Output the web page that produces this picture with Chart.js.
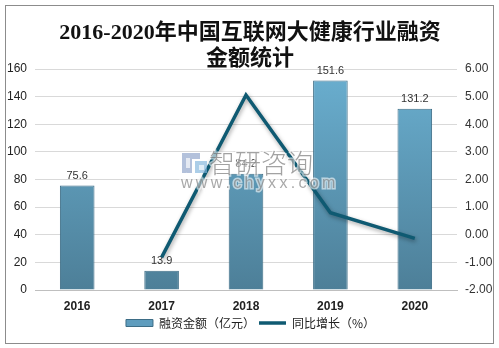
<!DOCTYPE html>
<html>
<head>
<meta charset="utf-8">
<script src="https://cdn.jsdelivr.net/npm/chart.js@4/dist/chart.umd.min.js"></script>
<style>
  html, body { margin: 0; padding: 0; background: #fff; }
  #wrap { position: relative; width: 499px; height: 348px; }
  #frame {
    position: absolute; left: 5px; top: 5px; width: 487px; height: 337px;
    border: 1px solid #8c8c8c; pointer-events: none;
  }
</style>
</head>
<body>
<div id="wrap">
  <canvas id="fundingChart" width="499" height="348"></canvas>
  <div id="frame"></div>
</div>
<script>
// yearly data
const years = ['2016', '2017', '2018', '2019', '2020'];
const funding = [75.6, 13.9, 84.2, 151.6, 131.2];      // 亿元
const growth = [null, -0.82, 5.06, 0.80, -0.13];       // 同比增长
const leftTicks = [0, 20, 40, 60, 80, 100, 120, 140, 160];
const rightTicks = [-2, -1, 0, 1, 2, 3, 4, 5, 6];
const titleLines = ['2016-2020年中国互联网大健康行业融资', '金额统计'];

const CJK = '"Noto Sans CJK SC", "Noto Sans", sans-serif';
const LATIN = '"Liberation Sans", Arial, sans-serif';

// vertical gradient for the bars
function barFill(context) {
    const { ctx, chartArea } = context.chart;
    if (!chartArea) return '#5e9bbb';
    const g = ctx.createLinearGradient(0, chartArea.top, 0, chartArea.bottom);
    g.addColorStop(0, '#6aafd0');
    g.addColorStop(1, '#4d7f98');
    return g;
}

// two-line heading, drawn in the top margin so it can sit close to the plot
const heading = {
    id: 'heading',
    afterDraw(chart) {
        const ctx = chart.ctx;
        ctx.save();
        ctx.font = 'bold 22px "Liberation Serif", ' + CJK;
        ctx.fillStyle = '#111';
        ctx.textAlign = 'center';
        ctx.textBaseline = 'middle';
        ctx.fillText(titleLines[0], 250, 33);
        ctx.fillText(titleLines[1], 250, 59);
        ctx.restore();
    }
};

// value labels above each bar, drawn before the line goes on top
const barLabels = {
    id: 'barLabels',
    afterDatasetDraw(chart, args) {
        if (args.index !== 0) return;
        const ctx = chart.ctx;
        const meta = chart.getDatasetMeta(0);
        ctx.save();
        ctx.font = '11px ' + LATIN;
        ctx.fillStyle = '#333';
        ctx.textAlign = 'center';
        ctx.textBaseline = 'bottom';
        meta.data.forEach((bar, i) => {
            ctx.fillText(funding[i].toFixed(1), bar.x, bar.y - 4);
        });
        ctx.restore();
    }
};

// soft shadow under the growth line
const lineShadow = {
    id: 'lineShadow',
    beforeDatasetDraw(chart, args) {
        if (args.index !== 1) return;
        const ctx = chart.ctx;
        ctx.save();
        ctx.shadowColor = 'rgba(0,0,0,0.35)';
        ctx.shadowBlur = 4;
        ctx.shadowOffsetX = 1;
        ctx.shadowOffsetY = 2;
    },
    afterDatasetDraw(chart, args) {
        if (args.index !== 1) return;
        chart.ctx.restore();
    }
};

// site watermark across the middle of the plot
const watermark = {
    id: 'watermark',
    afterDatasetsDraw(chart) {
        const ctx = chart.ctx;
        ctx.save();
        ctx.globalAlpha = 0.65;
        // logo blocks
        ctx.fillStyle = '#8aa0c8';
        ctx.fillRect(182, 153, 10, 20);
        ctx.fillRect(192, 153, 8, 6);
        ctx.fillStyle = '#7fb3dc';
        ctx.fillRect(195, 161, 12, 12);
        ctx.fillStyle = '#fff';
        ctx.fillRect(186, 158, 4, 10);
        ctx.fillRect(199, 165, 5, 5);
        // name
        ctx.font = '300 26px ' + CJK;
        ctx.textBaseline = 'middle';
        ctx.textAlign = 'left';
        ctx.lineWidth = 3;
        ctx.strokeStyle = 'rgba(255,255,255,0.9)';
        ctx.strokeText('智研咨询', 209, 163);
        ctx.fillStyle = '#707070';
        ctx.fillText('智研咨询', 209, 163);
        // url
        ctx.font = '16px ' + LATIN;
        ctx.fillStyle = '#7a7a7a';
        const url = 'www.chyxx.com';
        let x = 181;
        for (const ch of url) {
            ctx.strokeText(ch, x, 184);
            ctx.fillText(ch, x, 184);
            x += ctx.measureText(ch).width + 3.3;
        }
        ctx.restore();
    }
};

const ctx = document.getElementById('fundingChart').getContext('2d');
new Chart(ctx, {
    data: {
        labels: years,
        datasets: [
            {
                type: 'bar',
                label: '融资金额（亿元）',
                data: funding,
                yAxisID: 'y',
                order: 1,
                backgroundColor: barFill,
                borderColor: '#3d6d86',
                borderWidth: 1,
                barPercentage: 0.41,
                categoryPercentage: 1,
                pointStyle: 'rect'
            },
            {
                type: 'line',
                label: '同比增长（%）',
                data: growth,
                yAxisID: 'y1',
                order: 0,
                borderColor: '#0f5a72',
                backgroundColor: '#0f5a72',
                borderWidth: 3.5,
                pointRadius: 0,
                tension: 0,
                pointStyle: 'line'
            }
        ]
    },
    options: {
        responsive: false,
        animation: false,
        layout: { padding: { left: 2, right: 0, top: 69, bottom: 9 } },
        plugins: {
            title: { display: false },
            legend: {
                position: 'bottom',
                labels: {
                    usePointStyle: true,
                    pointStyleWidth: 27,
                    boxWidth: 27,
                    boxHeight: 7,
                    padding: 4,
                    color: '#222',
                    font: { family: CJK, size: 12 },
                    generateLabels(chart) {
                        const items = Chart.defaults.plugins.legend.labels.generateLabels(chart);
                        items.sort((a, b) => a.datasetIndex - b.datasetIndex);
                        items[0].fillStyle = '#5f9dbe';
                        items[0].strokeStyle = '#3d6d86';
                        items[0].lineWidth = 1;
                        items[1].lineWidth = 3.5;
                        return items;
                    }
                }
            },
            tooltip: { enabled: false }
        },
        scales: {
            x: {
                offset: true,
                afterFit(axis) { axis.height = 23; },
                grid: { display: false, drawTicks: false },
                border: { color: '#bfbfbf' },
                ticks: {
                    color: '#222',
                    padding: 9,
                    font: { family: LATIN, size: 12, weight: 'bold' }
                }
            },
            y: {
                position: 'left',
                min: 0,
                max: 160,
                afterBuildTicks(axis) { axis.ticks = leftTicks.map(v => ({ value: v })); },
                afterFit(axis) { axis.width = 33; },
                grid: { color: '#d9d9d9', drawTicks: false },
                border: { display: false },
                ticks: {
                    color: '#222',
                    padding: 8,
                    font: { family: LATIN, size: 12 }
                }
            },
            y1: {
                position: 'right',
                min: -2,
                max: 6,
                afterBuildTicks(axis) { axis.ticks = rightTicks.map(v => ({ value: v })); },
                afterFit(axis) { axis.width = 42; },
                grid: { display: false, drawTicks: false },
                border: { display: false },
                ticks: {
                    color: '#333',
                    padding: 8,
                    font: { family: LATIN, size: 12 },
                    callback: v => v.toFixed(2)
                }
            }
        }
    },
    plugins: [heading, barLabels, lineShadow, watermark]
});
</script>
</body>
</html>
